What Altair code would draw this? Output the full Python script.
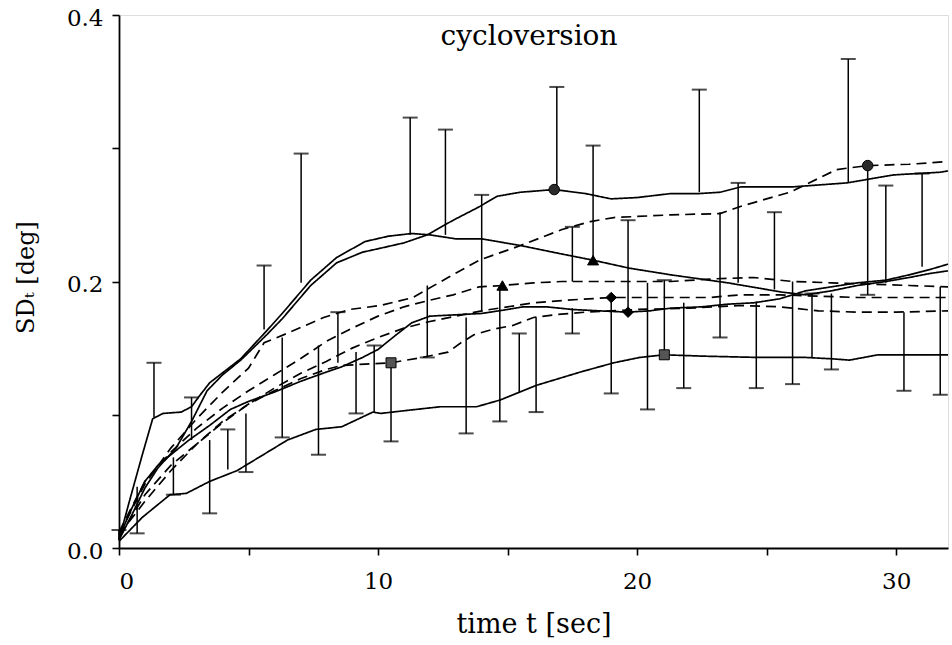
import altair as alt
import pandas as pd

FONT = "DejaVu Serif"

# ---------------- curves (time t [sec], SD_t [deg]) ----------------
s_circle_t = [0, 0.5, 1.0, 1.5, 2.2, 2.8, 3.4, 4.0, 4.7, 5.7, 6.3, 7.4, 8.4, 9.4, 10.1, 11.0, 11.9, 12.9, 13.9, 14.6, 15.5, 16.8, 18.0, 19.0, 20.0, 21.3, 22.4, 23.2, 24.0, 26.0, 28.1, 29.9, 31.7, 32.0]
s_circle_v = [0.006, 0.025, 0.045, 0.060, 0.075, 0.095, 0.118, 0.130, 0.141, 0.160, 0.172, 0.197, 0.214, 0.222, 0.225, 0.229, 0.235, 0.246, 0.256, 0.264, 0.267, 0.269, 0.266, 0.262, 0.263, 0.266, 0.266, 0.267, 0.271, 0.271, 0.274, 0.280, 0.282, 0.283]

s_triangle_t = [0, 0.4, 0.9, 1.3, 1.7, 2.4, 2.8, 3.1, 3.5, 4.7, 5.7, 6.3, 7.4, 8.4, 9.5, 10.4, 11.3, 12.0, 13.0, 14.0, 15.5, 17.0, 18.3, 19.7, 21.3, 23.5, 25.6, 26.5, 27.5, 28.5, 29.6, 30.5, 31.3, 32.0]
s_triangle_v = [0.006, 0.035, 0.070, 0.097, 0.101, 0.102, 0.106, 0.114, 0.124, 0.142, 0.163, 0.176, 0.201, 0.218, 0.230, 0.234, 0.236, 0.235, 0.232, 0.232, 0.227, 0.221, 0.216, 0.210, 0.205, 0.199, 0.192, 0.190, 0.193, 0.197, 0.200, 0.203, 0.206, 0.208]

s_diamond_t = [0, 0.5, 1.0, 1.5, 2.0, 2.7, 3.5, 4.3, 5.0, 6.0, 7.0, 8.0, 8.6, 9.4, 10.0, 10.7, 11.3, 12.0, 13.0, 14.0, 15.0, 15.6, 16.5, 17.5, 18.5, 19.65, 20.5, 21.3, 22.5, 23.5, 24.5, 25.5, 26.5, 27.5, 28.5, 29.6, 30.5, 31.3, 32.0]
s_diamond_v = [0.008, 0.030, 0.050, 0.062, 0.070, 0.081, 0.092, 0.104, 0.110, 0.117, 0.125, 0.132, 0.136, 0.143, 0.149, 0.160, 0.169, 0.174, 0.175, 0.176, 0.179, 0.181, 0.181, 0.179, 0.178, 0.177, 0.178, 0.180, 0.181, 0.183, 0.184, 0.187, 0.193, 0.196, 0.199, 0.201, 0.205, 0.209, 0.213]

s_square_t = [0, 0.9, 1.97, 2.6, 3.5, 4.55, 5.4, 6.5, 7.6, 8.6, 9.8, 10.1, 11.0, 12.4, 13.8, 14.7, 16.1, 17.8, 19.1, 20.1, 21.05, 22.5, 24.7, 26.5, 27.5, 28.2, 29.3, 30.5, 32.0]
s_square_v = [0.005, 0.023, 0.040, 0.041, 0.050, 0.058, 0.068, 0.081, 0.089, 0.091, 0.102, 0.101, 0.103, 0.106, 0.106, 0.111, 0.122, 0.132, 0.139, 0.143, 0.145, 0.144, 0.143, 0.143, 0.142, 0.141, 0.145, 0.145, 0.145]

d_circle_t = [0, 1, 2, 3, 4, 5, 5.6, 6.6, 7.9, 8.9, 10.1, 11.35, 12.7, 13.9, 15.5, 17.1, 18.2, 19.1, 21.3, 23.2, 24.1, 25.9, 27.7, 28.9, 30.5, 32.0]
d_circle_v = [0.010, 0.048, 0.075, 0.097, 0.117, 0.135, 0.154, 0.162, 0.173, 0.179, 0.182, 0.188, 0.203, 0.216, 0.227, 0.239, 0.245, 0.248, 0.250, 0.251, 0.257, 0.267, 0.284, 0.287, 0.288, 0.290]

d_triangle_t = [0, 1, 2, 3, 4, 5, 6, 7, 8, 9, 10, 11, 12, 12.9, 13.9, 14.8, 16.0, 17.1, 19.0, 21.3, 23.0, 24.5, 26.0, 27.5, 29.0, 30.5, 32.0]
d_triangle_v = [0.012, 0.050, 0.072, 0.090, 0.105, 0.118, 0.130, 0.142, 0.155, 0.165, 0.174, 0.181, 0.186, 0.190, 0.196, 0.197, 0.199, 0.200, 0.200, 0.200, 0.202, 0.203, 0.200, 0.199, 0.198, 0.197, 0.196]

d_diamond_t = [0, 1, 2, 3, 4, 5, 6, 7, 8, 9, 10, 11, 12, 13, 14, 15, 16, 17.3, 19.0, 21.3, 22.8, 24.0, 25.5, 27.0, 28.5, 30.0, 32.0]
d_diamond_v = [0.008, 0.040, 0.062, 0.078, 0.094, 0.108, 0.120, 0.131, 0.140, 0.150, 0.158, 0.165, 0.170, 0.174, 0.178, 0.181, 0.184, 0.186, 0.188, 0.188, 0.188, 0.190, 0.190, 0.189, 0.188, 0.188, 0.188]

d_square_t = [0, 1, 2, 3, 4, 5, 6, 7, 8, 8.6, 9.5, 10.5, 11.7, 12.7, 13.2, 13.7, 14.4, 15.2, 16.0, 16.8, 18.0, 20.0, 22.0, 24.0, 25.5, 27.0, 28.5, 30.0, 32.0]
d_square_v = [0.010, 0.035, 0.058, 0.078, 0.095, 0.108, 0.118, 0.127, 0.134, 0.137, 0.138, 0.139, 0.143, 0.147, 0.154, 0.160, 0.164, 0.167, 0.173, 0.175, 0.177, 0.179, 0.180, 0.182, 0.181, 0.178, 0.177, 0.177, 0.178]

# ---------------- markers ----------------
marker_t = [16.8, 28.9, 18.3, 14.8, 19.65, 19.0, 21.05, 10.5]
marker_v = [0.269, 0.287, 0.216, 0.197, 0.177, 0.188, 0.145, 0.139]
marker_shape = ["circle", "circle", "triangle-up", "triangle-up", "diamond", "diamond", "square", "square"]
marker_fill = ["#2a2a2a", "#2a2a2a", "#000000", "#000000", "#000000", "#000000", "#555555", "#555555"]
marker_size = [110, 110, 120, 120, 110, 110, 100, 100]

# ---------------- error bars: from curve value (base) to capped end (tip) ----------------
bar_t = [0.0, 0.7, 1.35, 2.1, 2.8, 3.5, 4.2, 4.9, 5.6, 6.3, 7.03, 7.7, 8.45, 9.15, 9.85, 10.5,
         11.24, 11.9, 12.6, 13.4, 14.0, 14.7, 15.45, 16.1, 16.9, 17.5, 17.5, 18.3, 19.0, 19.65,
         20.4, 21.05, 21.8, 22.4, 23.2, 23.9, 24.6, 25.3, 26.0, 26.75, 27.5, 28.15, 28.9, 29.6,
         30.3, 31.0, 31.7]
bar_base = [0.006, 0.046, 0.098, 0.068, 0.081, 0.081, 0.059, 0.101, 0.164, 0.158, 0.199, 0.152, 0.139, 0.147, 0.102, 0.139,
            0.235, 0.197, 0.235, 0.173, 0.177, 0.197, 0.117, 0.173, 0.269, 0.180, 0.200, 0.216, 0.188, 0.177,
            0.199, 0.145, 0.184, 0.267, 0.252, 0.199, 0.185, 0.194, 0.200, 0.143, 0.191, 0.274, 0.287, 0.199,
            0.177, 0.211, 0.196]
bar_tip = [0.0135, 0.011, 0.139, 0.040, 0.113, 0.026, 0.089, 0.057, 0.212, 0.083, 0.296, 0.070, 0.177, 0.101, 0.152, 0.080,
           0.323, 0.143, 0.314, 0.086, 0.265, 0.095, 0.161, 0.102, 0.346, 0.161, 0.241, 0.302, 0.116, 0.246,
           0.104, 0.201, 0.120, 0.344, 0.158, 0.274, 0.120, 0.252, 0.123, 0.191, 0.134, 0.367, 0.190, 0.272,
           0.118, 0.281, 0.115]

series = [
    ("S_circle", "solid", s_circle_t, s_circle_v),
    ("S_triangle", "solid", s_triangle_t, s_triangle_v),
    ("S_diamond", "solid", s_diamond_t, s_diamond_v),
    ("S_square", "solid", s_square_t, s_square_v),
    ("D_circle", "dashed", d_circle_t, d_circle_v),
    ("D_triangle", "dashed", d_triangle_t, d_triangle_v),
    ("D_diamond", "dashed", d_diamond_t, d_diamond_v),
    ("D_square", "dashed", d_square_t, d_square_v),
]
rows = []
for name, style, ts, vs in series:
    for t, v in zip(ts, vs):
        rows.append({"series": name, "style": style, "t": t, "v": v})
lines_df = pd.DataFrame(rows)
bars_df = pd.DataFrame({"t": bar_t, "base": bar_base, "tip": bar_tip})
markers_df = pd.DataFrame({"t": marker_t, "v": marker_v, "shape": marker_shape,
                           "fill": marker_fill, "size": marker_size})

x_scale = alt.Scale(domain=[0, 32], nice=False, zero=False)
y_scale = alt.Scale(domain=[0, 0.4], nice=False)

x_axis = alt.Axis(
    values=[0, 5, 10, 15, 20, 25, 30],
    labelExpr="datum.value % 10 == 0 ? datum.value : ''",
    title="time t [sec]", grid=False,
    domainColor="black", domainWidth=1.8, tickColor="black", tickWidth=1.6, tickSize=7,
    labelFont=FONT, labelFontSize=23, labelColor="black", labelPadding=15,
    titleFont=FONT, titleFontSize=27, titleFontWeight="normal", titleColor="black",
    titleY=84, titleBaseline="alphabetic",
)
y_axis = alt.Axis(
    values=[0, 0.1, 0.2, 0.3, 0.4],
    labelExpr="round(datum.value * 10) % 2 == 0 ? format(datum.value, '.1f') : ''",
    title="SDₜ   [deg]", grid=False,
    domainColor="black", domainWidth=1.8, tickColor="black", tickWidth=1.6, tickSize=7,
    labelFont=FONT, labelFontSize=23, labelColor="black", labelPadding=9, labelOffset=3,
    titleFont=FONT, titleFontSize=24, titleFontWeight="normal", titleColor="black",
    titleAngle=270, titleX=-86, titleY=262, titleAlign="center", titleBaseline="alphabetic",
)

lines = alt.Chart(lines_df).mark_line(color="black", strokeWidth=1.7).encode(
    x=alt.X("t:Q", scale=x_scale, axis=x_axis),
    y=alt.Y("v:Q", scale=y_scale, axis=y_axis),
    detail="series:N",
    strokeDash=alt.StrokeDash("style:N", scale=alt.Scale(domain=["solid", "dashed"], range=[[1, 0], [10, 6]]), legend=None),
)

bars = alt.Chart(bars_df).mark_rule(color="black", strokeWidth=1.5).encode(
    x=alt.X("t:Q", scale=x_scale), y=alt.Y("base:Q", scale=y_scale), y2="tip:Q"
)
caps = alt.Chart(bars_df).mark_tick(color="black", thickness=2, size=15, orient="horizontal").encode(
    x=alt.X("t:Q", scale=x_scale), y=alt.Y("tip:Q", scale=y_scale)
)
markers = alt.Chart(markers_df).mark_point(filled=True, opacity=1, stroke="black", strokeWidth=1).encode(
    x=alt.X("t:Q", scale=x_scale), y=alt.Y("v:Q", scale=y_scale),
    shape=alt.Shape("shape:N", scale=None),
    fill=alt.Fill("fill:N", scale=None),
    size=alt.Size("size:Q", scale=None),
)
title = alt.Chart(pd.DataFrame({"label": ["cycloversion"]})).mark_text(
    font=FONT, fontSize=28, color="black", align="center", baseline="alphabetic"
).encode(x=alt.value(410), y=alt.value(30), text="label:N")

chart = alt.layer(bars, caps, lines, markers, title).properties(
    width=829, height=533,
    autosize=alt.AutoSizeParams(type="none"),
    padding={"left": 119, "top": 15, "right": 4, "bottom": 97},
).configure_view(stroke=None).configure(background="white")

chart.save("out.html", embed_options={"renderer": "svg", "actions": False})
